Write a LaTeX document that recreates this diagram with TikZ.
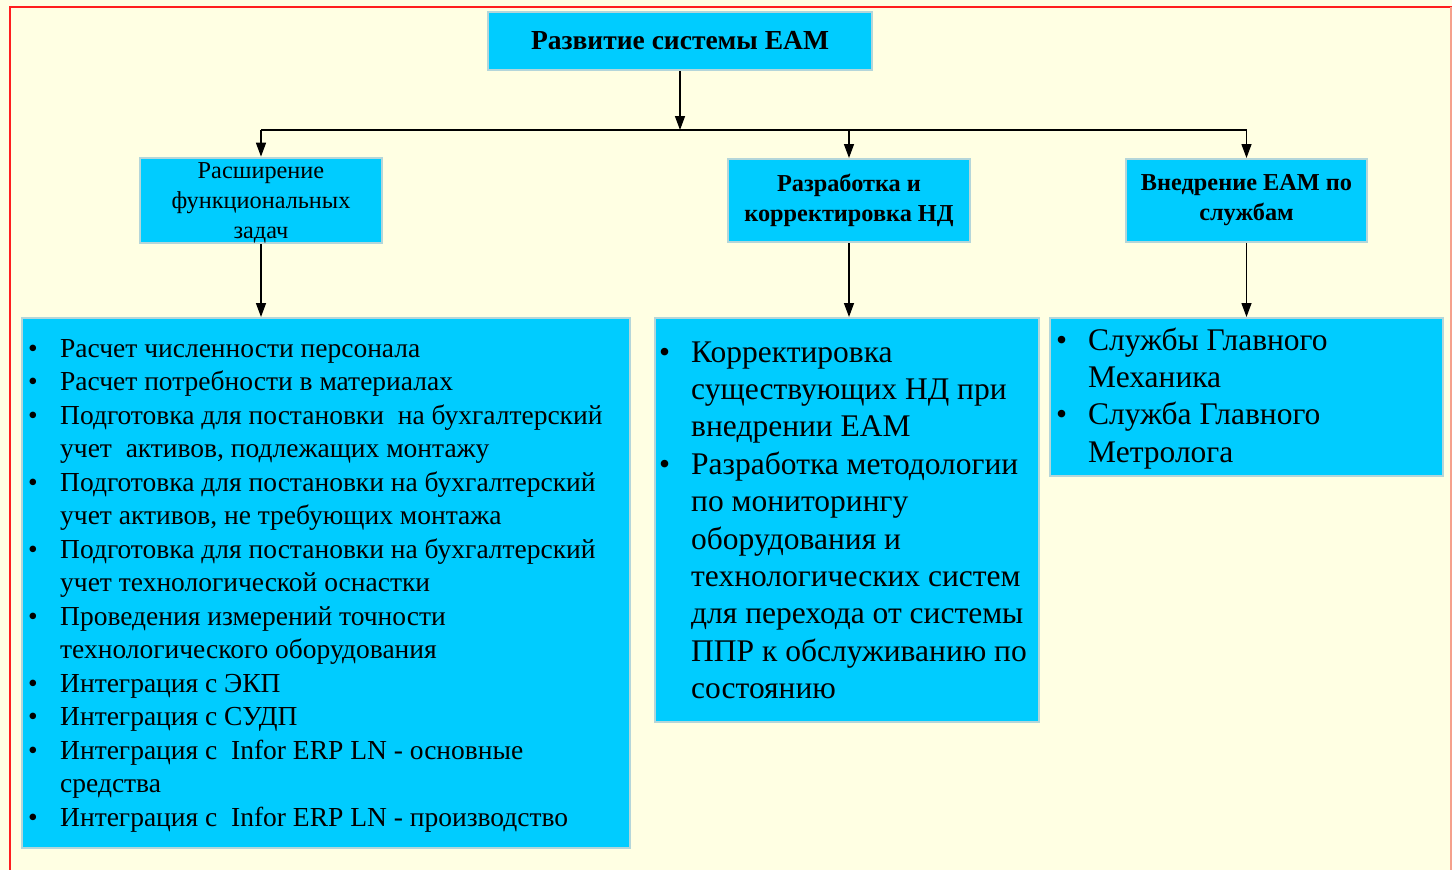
\documentclass[tikz,border=0pt]{standalone}
\usepackage{fontspec}
\setmainfont{Liberation Serif}
\usetikzlibrary{arrows.meta,calc}

\definecolor{paper}{HTML}{FFFFE3}
\definecolor{boxfill}{HTML}{00CCFF}
\definecolor{boxline}{HTML}{B4D6DA}
\definecolor{frame}{HTML}{FF1E1E}
\definecolor{frameside}{HTML}{F5A08C}

\tikzset{
	box/.style={draw=boxline, line width=2pt, fill=boxfill, inner sep=0pt, align=center},
	listtext/.style={anchor=base west, inner sep=0pt, align=left},
	link/.style={line width=1.4pt, -{Triangle[length=14pt,width=10pt]}},
}

\begin{document}
\begin{tikzpicture}[x=1pt, y=-1pt]
	\fill[paper] (0,0) rectangle (1452,870);
	\useasboundingbox (0,0) rectangle (1452,870);
	\draw[frame, line width=2pt] (10,870) -- (10,7) -- (1452,7); % red frame
	\draw[frameside, line width=1.5pt] (1451,7) -- (1451,870);

	% top level
	\node[box, minimum width=384pt, minimum height=58pt, font=\bfseries\fontsize{27.5}{32}\selectfont] (eam) at (680,41) {Развитие системы EAM};

	% second level
	\node[box, minimum width=242pt, minimum height=83pt, font=\fontsize{24.3}{30}\selectfont] (zadachi) at (261,200.5) {\rule{0pt}{21pt}Расширение\\функциональных\\задач};
	\node[box, minimum width=242pt, minimum height=83pt, font=\bfseries\fontsize{24.3}{30}\selectfont] (nd) at (849,200.5) {Разработка и\\корректировка НД};
	\node[box, minimum width=241pt, minimum height=83pt, font=\bfseries\fontsize{24.3}{30}\selectfont] (sluzhby) at (1246.5,200.5) {Внедрение EAM по\\службам};

	% lists
	\node[box, minimum width=608pt, minimum height=530pt] (zadachiList) at (326,583) {};
	\node[box, minimum width=384pt, minimum height=404pt] (ndList) at (847,520) {};
	\node[box, minimum width=393pt, minimum height=158pt] (sluzhbyList) at (1246.5,397) {};

	\node[listtext, font=\fontsize{27.5}{33.5}\selectfont] (zadachiText) at (28,357) {%
		\begin{tabular}[t]{@{}p{32pt}@{}l@{}}
		• & Расчет численности персонала\\
		• & Расчет потребности в материалах\\
		• & Подготовка для постановки\ \ на бухгалтерский\\
		  & учет\ \ активов, подлежащих монтажу\\
		• & Подготовка для постановки на бухгалтерский\\
		  & учет активов, не требующих монтажа\\
		• & Подготовка для постановки на бухгалтерский\\
		  & учет технологической оснастки\\
		• & Проведения измерений точности\\
		  & технологического оборудования\\
		• & Интеграция с ЭКП\\
		• & Интеграция с СУДП\\
		• & Интеграция с\ \ Infor ERP LN - основные\\
		  & средства\\
		• & Интеграция с\ \ Infor ERP LN - производство
		\end{tabular}};
	\node[listtext, font=\fontsize{31.5}{37.4}\selectfont] (ndText) at (659,362) {%
		\begin{tabular}[t]{@{}p{32pt}@{}l@{}}
		• & Корректировка\\
		  & существующих НД при\\
		  & внедрении EAM\\
		• & Разработка методологии\\
		  & по мониторингу\\
		  & оборудования и\\
		  & технологических систем\\
		  & для перехода от системы\\
		  & ППР к обслуживанию по\\
		  & состоянию
		\end{tabular}};
	\node[listtext, font=\fontsize{31.5}{37.4}\selectfont] (sluzhbyText) at (1056,350) {%
		\begin{tabular}[t]{@{}p{32pt}@{}l@{}}
		• & Службы Главного\\
		  & Механика\\
		• & Служба Главного\\
		  & Метролога
		\end{tabular}};

	% connectors
	\coordinate (bus) at (680,130);
	\draw[link] (eam.south) -- (bus);
	\draw[line width=1.4pt] (bus -| zadachi.north) -- (bus -| sluzhby.north);
	\draw[link] (bus -| zadachi.north) -- (zadachi.north);
	\draw[link] (bus -| nd.north) -- (nd.north);
	\draw[link] (bus -| sluzhby.north) -- (sluzhby.north);
	\draw[link] (zadachi.south) -- (zadachi.south |- zadachiList.north);
	\draw[link] (nd.south) -- (nd.south |- ndList.north);
	\draw[link] (sluzhby.south) -- (sluzhby.south |- sluzhbyList.north);
\end{tikzpicture}
\end{document}
